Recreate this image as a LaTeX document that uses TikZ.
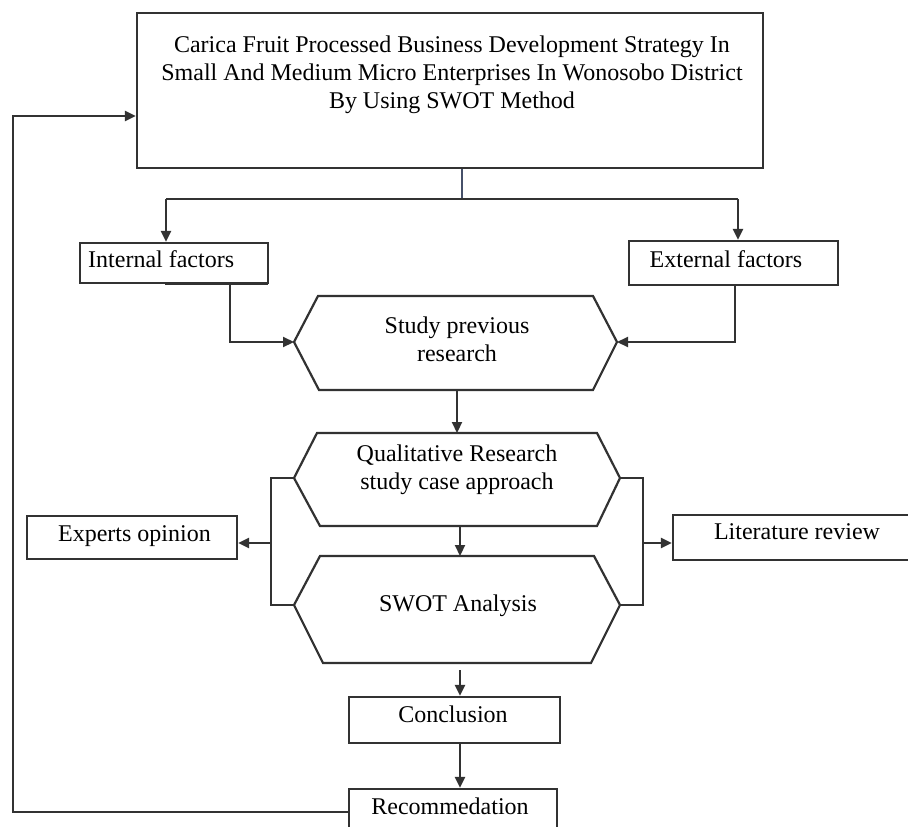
\documentclass[tikz,border=0pt]{standalone}
\usepackage{fontspec}
\setmainfont{Liberation Serif}
\usetikzlibrary{arrows.meta}
\definecolor{lncol}{RGB}{50,50,50}
\definecolor{stemcol}{RGB}{70,80,105}
\begin{document}
\begin{tikzpicture}[x=1pt,y=-1pt,
  ln/.style={line width=2.2pt, draw=lncol},
  arr/.style={ln, -{Triangle[length=11pt,width=10pt]}},
  stemline/.style={line width=1.3pt, draw=stemcol},
  boxnode/.style={draw=lncol, line width=2.2pt, rectangle, inner sep=0pt},
  hexa/.style={draw=lncol, line width=2.2pt, line join=miter},
  txt/.style={font=\fontsize{24}{28}\selectfont, inner sep=0pt, align=center},
]
\useasboundingbox (0,0) rectangle (908,827);
\clip (0,0) rectangle (908,827);
\fill[white] (0,0) rectangle (908,827);

% boxes
\node[boxnode, minimum width=626pt, minimum height=155pt] (title) at (450,90.5) {};
\node[txt] (titletext) at (452,75) {Carica Fruit Processed Business Development Strategy In\\Small And Medium Micro Enterprises In Wonosobo District\\By Using SWOT Method};

\node[boxnode, minimum width=188pt, minimum height=40pt] (internal) at (174,263) {};
\node[txt, anchor=west] (internaltext) at (88,259) {Internal factors};
\draw[line width=3pt, draw=lncol] (165,283.5) -- (268,283.5);

\node[boxnode, minimum width=209pt, minimum height=44pt] (external) at (733.5,263) {};
\node[txt] (externaltext) at (726,259) {External factors};

\node[boxnode, minimum width=210pt, minimum height=43pt] (experts) at (132,537.5) {};
\node[txt] (expertstext) at (134.5,536) {Experts opinion};

\node[boxnode, minimum width=257pt, minimum height=45pt] (literature) at (801.5,537.5) {};
\node[txt] (literaturetext) at (797,532) {Literature review};

\node[boxnode, minimum width=211pt, minimum height=46pt] (conclusion) at (454.5,720) {};
\node[txt] (conclusiontext) at (453,714) {Conclusion};

\node[boxnode, minimum width=208pt, minimum height=61pt] (rec) at (453,819.5) {};
\node[txt] (rectext) at (450,806) {Recommedation};

% hexagons
\coordinate (studyL) at (294,342);
\coordinate (studyR) at (617,342);
\coordinate (studyB) at (457,390);
\draw[hexa] (318,296) -- (593,296) -- (studyR) -- (593,390) -- (319,390) -- (studyL) -- cycle;
\node[txt] (studytext) at (457,339) {Study previous\\research};

\coordinate (qualL) at (294,478);
\coordinate (qualR) at (620,478);
\coordinate (qualT) at (457,433);
\coordinate (qualB) at (460,526);
\draw[hexa] (317,433) -- (597,433) -- (qualR) -- (597,526) -- (320,526) -- (qualL) -- cycle;
\node[txt] (qualtext) at (457,470) {Qualitative Research\\study case approach};

\coordinate (swotL) at (294,605);
\coordinate (swotR) at (620,605);
\coordinate (swotT) at (460,556);
\coordinate (swotB) at (460,663);
\draw[hexa] (320,556) -- (594,556) -- (swotR) -- (591,663) -- (323,663) -- (swotL) -- cycle;
\node[txt] (swottext) at (458,606) {SWOT Analysis};

% connectors
\coordinate (split) at (462,199);
\coordinate (splitL) at (166,199);
\coordinate (splitR) at (738,199);
\draw[stemline] (split |- title.south) -- (split);
\draw[ln] (splitL) -- (splitR);
\draw[arr] (splitL) -- (splitL |- internal.north);
\draw[arr] (splitR) -- (splitR |- external.north);

\coordinate (inDown) at (230,0);
\coordinate (exDown) at (735,0);
\draw[arr] (inDown |- internal.south) |- (studyL);
\draw[arr] (exDown |- external.south) |- (studyR);

\draw[arr] (studyB) -- (qualT);
\draw[arr] (qualB) -- (swotT);

\coordinate (lbr) at (271,543);
\coordinate (rbr) at (643,543);
\draw[ln] (qualL) -- (qualL -| lbr) -- (swotL -| lbr) -- (swotL);
\draw[ln] (qualR) -- (qualR -| rbr) -- (swotR -| rbr) -- (swotR);
\draw[arr] (lbr) -- (lbr -| experts.east);
\draw[arr] (rbr) -- (rbr -| literature.west);

\draw[arr, shorten <=7pt] (swotB) -- (swotB |- conclusion.north);
\draw[arr] (swotB |- conclusion.south) -- (swotB |- rec.north);

\coordinate (fby) at (0,812);
\coordinate (fbTop) at (13,116);
\draw[arr] (rec.west |- fby) -| (fbTop) -- (fbTop -| title.west);
\end{tikzpicture}
\end{document}
